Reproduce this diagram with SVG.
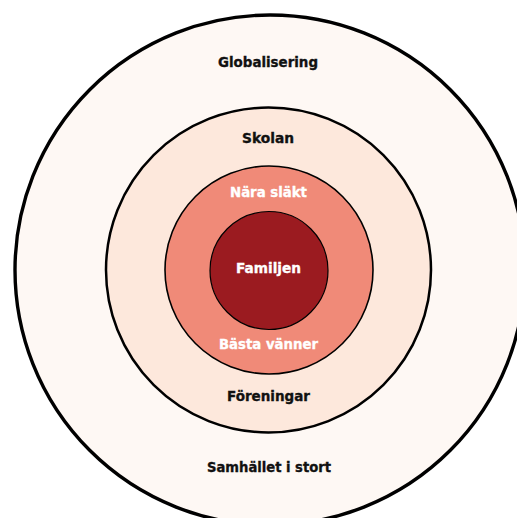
<svg xmlns="http://www.w3.org/2000/svg" width="517" height="518" viewBox="0 0 517 518">
<style>
.t{font-family:"DejaVu Sans","Liberation Sans",sans-serif;font-weight:bold;font-size:14px;text-anchor:middle;stroke-width:0.35px}
.d{fill:#111111;stroke:#111111}
.w{fill:#ffffff;stroke:#ffffff}
</style>
<rect width="517" height="518" fill="#ffffff"/>
<g id="ring-outer">
<circle cx="270" cy="270" r="255" fill="#FEF8F4" stroke="#000" stroke-width="3.4"/>
<text class="t d" x="268" y="67" textLength="100" lengthAdjust="spacingAndGlyphs">Globalisering</text>
<text class="t d" x="269" y="472" textLength="124" lengthAdjust="spacingAndGlyphs">Samhället i stort</text>
</g>
<g id="ring-school">
<circle cx="268.5" cy="270" r="162.5" fill="#FDE8DC" stroke="#000" stroke-width="2.5"/>
<text class="t d" x="268" y="143" textLength="52" lengthAdjust="spacingAndGlyphs">Skolan</text>
<text class="t d" x="268.5" y="401" textLength="83" lengthAdjust="spacingAndGlyphs">Föreningar</text>
</g>
<g id="ring-relatives">
<circle cx="269" cy="270" r="104" fill="#F08A78" stroke="#000" stroke-width="1.6"/>
<text class="t w" x="268.5" y="197" textLength="77" lengthAdjust="spacingAndGlyphs">Nära släkt</text>
<text class="t w" x="268.5" y="349" textLength="99" lengthAdjust="spacingAndGlyphs">Bästa vänner</text>
</g>
<g id="family">
<circle cx="269" cy="270.5" r="59" fill="#9B1B20" stroke="#000" stroke-width="1.2"/>
<text class="t w" x="268.5" y="273" textLength="65" lengthAdjust="spacingAndGlyphs">Familjen</text>
</g>
<g id="connectors"/>
</svg>
